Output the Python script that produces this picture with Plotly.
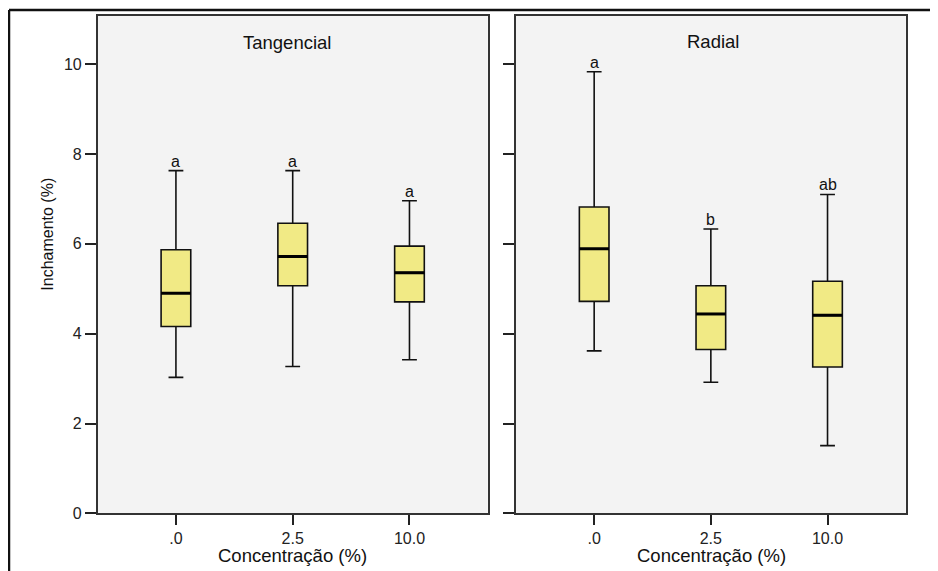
import plotly.graph_objects as go

W, H = 938, 571
OFF = 8                      # page body margin of the browser
SY = 579 / 571               # vertical page-to-picture correction
FW = W - OFF
FH = round(H * SY) - OFF + 4

categories = [".0", "2.5", "10.0"]
panels = ["Tangencial", "Radial"]

# Tangencial
tan_lower = [3.03, 3.27, 3.42]
tan_q1 = [4.16, 5.07, 4.71]
tan_median = [4.90, 5.72, 5.36]
tan_q3 = [5.87, 6.46, 5.95]
tan_upper = [7.63, 7.63, 6.96]
tan_letters = ["a", "a", "a"]

# Radial
rad_lower = [3.62, 2.92, 1.51]
rad_q1 = [4.72, 3.65, 3.26]
rad_median = [5.89, 4.44, 4.41]
rad_q3 = [6.82, 5.07, 5.17]
rad_upper = [9.83, 6.33, 7.10]
rad_letters = ["a", "b", "ab"]

yticks = [0, 2, 4, 6, 8, 10]

FONT = "Liberation Sans, Arial, sans-serif"
BOX_FILL = "#F1EA85"
BOX_W = 0.254

def px_x(p):
    return (p - OFF) / FW

def px_y(p):
    return 1 - (p * SY - OFF) / FH

fig = go.Figure()

data = [
    (tan_lower, tan_q1, tan_median, tan_q3, tan_upper, tan_letters, "x", "y"),
    (rad_lower, rad_q1, rad_median, rad_q3, rad_upper, rad_letters, "x2", "y2"),
]
xs = list(range(len(categories)))

annotations = []
for lower, q1, med, q3, upper, letters, xa, ya in data:
    fig.add_trace(go.Box(
        x=xs, lowerfence=lower, q1=q1, median=med, q3=q3, upperfence=upper,
        xaxis=xa, yaxis=ya, width=BOX_W, whiskerwidth=0.5,
        fillcolor=BOX_FILL, line=dict(color="#111111", width=1.6),
        showlegend=False, boxpoints=False, hoverinfo="skip",
    ))
    mx, my = [], []
    for i, m in enumerate(med):
        mx += [xs[i] - BOX_W / 2, xs[i] + BOX_W / 2, None]
        my += [m, m, None]
    fig.add_trace(go.Scatter(
        x=mx, y=my, mode="lines", line=dict(color="#000000", width=3),
        xaxis=xa, yaxis=ya, showlegend=False, hoverinfo="skip",
    ))
    for i, t in enumerate(letters):
        annotations.append(dict(
            x=xs[i], y=upper[i], xref=xa, yref=ya, text=t, showarrow=False,
            yanchor="bottom", yshift=-1,
            font=dict(family=FONT, size=16, color="#111111"),
        ))

def txt(x, y, text, size, angle=0):
    return dict(x=px_x(x), y=px_y(y), xref="paper", yref="paper", text=text,
                showarrow=False, xanchor="center", yanchor="middle",
                textangle=angle, font=dict(family=FONT, size=size, color="#111111"))

annotations.append(txt(287, 42, "Tangencial", 18.5))
annotations.append(txt(713, 41, "Radial", 18.5))
annotations.append(txt(292, 556, "Concentração (%)", 18.5))
annotations.append(txt(711, 556, "Concentração (%)", 18.5))
annotations.append(txt(48, 235, "Inchamento (%)", 16, -90))

xr = [-0.67, 2.67]
yr = [0, 11.07]
ydom = [px_y(514.3), px_y(16)]

common_x = dict(range=xr, tickvals=xs, ticktext=categories, ticks="outside",
                ticklen=10, tickwidth=2, tickcolor="#222222",
                showline=True, linecolor="#333333", linewidth=1.5, mirror=True,
                showgrid=False, zeroline=False,
                tickfont=dict(family=FONT, size=16, color="#222222"))
common_y = dict(range=yr, tickvals=yticks, ticks="outside", ticklen=11,
                tickwidth=1.5, tickcolor="#222222",
                showline=True, linecolor="#333333", linewidth=1.5, mirror=True,
                showgrid=False, zeroline=False,
                tickfont=dict(family=FONT, size=16, color="#222222"), domain=ydom)

fig.update_layout(
    width=FW, height=FH,
    margin=dict(l=0, r=0, t=0, b=0),
    paper_bgcolor="white",
    plot_bgcolor="#F3F3F3",
    xaxis=dict(domain=[px_x(97.7), px_x(487.7)], anchor="y", **common_x),
    yaxis=dict(anchor="x", showticklabels=True, **common_y),
    xaxis2=dict(domain=[px_x(516), px_x(905.7)], anchor="y2", **common_x),
    yaxis2=dict(anchor="x2", showticklabels=False, **common_y),
    annotations=annotations,
    shapes=[
        dict(type="line", xref="paper", yref="paper", x0=px_x(9), x1=1.0,
             y0=px_y(10), y1=px_y(10), line=dict(color="#111111", width=2.5)),
        dict(type="line", xref="paper", yref="paper", x0=px_x(9), x1=px_x(9),
             y0=px_y(10), y1=0, line=dict(color="#111111", width=2.5)),
    ],
)

fig.write_html("out.html")
